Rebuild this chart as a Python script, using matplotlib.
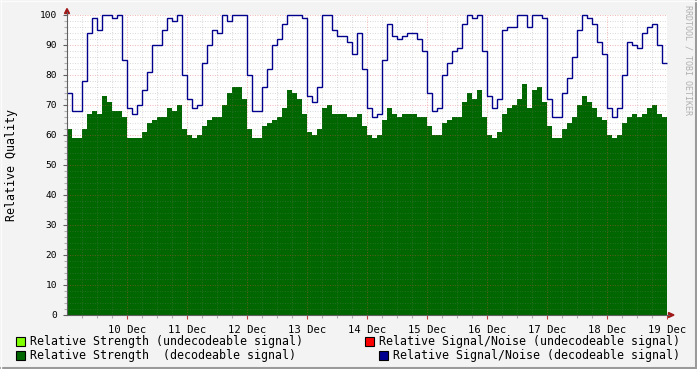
import numpy as np
import matplotlib.pyplot as plt
from matplotlib.patches import Rectangle, Polygon
from matplotlib.lines import Line2D

# 2-hourly samples, 9 Dec 00:00 .. 19 Dec 00:00 (one row per day)
strength = [
    62, 59, 59, 62, 67, 68, 67, 73, 71, 68, 68, 66,
    59, 59, 59, 61, 64, 65, 66, 66, 69, 68, 70, 62,
    60, 59, 60, 63, 65, 66, 66, 70, 74, 76, 76, 72,
    62, 59, 59, 63, 64, 65, 66, 69, 75, 74, 72, 67,
    61, 60, 62, 69, 70, 67, 67, 67, 66, 66, 67, 63,
    60, 59, 60, 65, 69, 67, 66, 67, 67, 67, 66, 66,
    63, 60, 60, 64, 65, 66, 66, 71, 74, 72, 75, 66,
    60, 59, 61, 67, 69, 70, 72, 77, 69, 75, 76, 71,
    63, 59, 59, 62, 64, 66, 70, 73, 71, 69, 66, 65,
    60, 59, 60, 64, 66, 67, 66, 67, 69, 70, 67, 66,
]
snr = [
    74, 68, 68, 78, 94, 99, 95, 100, 100, 99, 100, 85,
    69, 67, 70, 75, 81, 90, 90, 95, 99, 98, 100, 80,
    72, 69, 70, 84, 90, 95, 94, 100, 98, 100, 100, 100,
    80, 68, 68, 76, 82, 90, 92, 97, 100, 100, 100, 99,
    73, 71, 76, 100, 100, 95, 93, 93, 91, 87, 94, 82,
    69, 66, 67, 85, 97, 93, 92, 93, 94, 94, 92, 88,
    74, 68, 69, 80, 84, 88, 89, 97, 100, 99, 100, 88,
    73, 69, 72, 95, 96, 96, 100, 100, 96, 100, 100, 99,
    72, 66, 66, 74, 79, 86, 95, 100, 99, 97, 91, 87,
    69, 66, 69, 80, 91, 90, 89, 94, 96, 97, 90, 84,
]
day_labels = ['10 Dec', '11 Dec', '12 Dec', '13 Dec', '14 Dec',
              '15 Dec', '16 Dec', '17 Dec', '18 Dec', '19 Dec']

W, H = 697, 369
MONO = 'DejaVu Sans Mono'
plt.rcParams['font.family'] = MONO


def fx(x):
    return x / W


def fy(y):
    return 1 - y / H


fig = plt.figure(figsize=(W / 100, H / 100), dpi=100, facecolor='#F3F3F3')
ax = fig.add_axes([fx(67), fy(315), 600 / W, 300 / H])
ax.set_facecolor('white')
ax.set_xlim(0, 240)
ax.set_ylim(0, 100)
for s in ax.spines.values():
    s.set_visible(False)

edges = np.arange(0, 241, 2)

# green area
ax.stairs(strength, edges, fill=True, color='#006600', baseline=0, zorder=2)

# grid on top of the area, dotted
dot = (0, (1, 1.5))
minor_c = [(0.5, 0.5, 0.5, 0.28)]
major_c = [(0.9, 0.3, 0.3, 0.38)]
ax.hlines([v for v in range(2, 101, 2) if v % 10], 0, 240,
          colors=minor_c, linestyles=[dot], lw=0.72, zorder=3)
ax.vlines([h for h in range(6, 241, 6) if h % 24], 0, 100,
          colors=minor_c, linestyles=[dot], lw=0.72, zorder=3)
ax.hlines(range(10, 101, 10), 0, 240,
          colors=major_c, linestyles=[dot], lw=0.72, zorder=3)
ax.vlines(range(24, 241, 24), 0, 100,
          colors=major_c, linestyles=[dot], lw=0.72, zorder=3)

# signal/noise line
ax.stairs(snr, edges, baseline=None, color='#00008C', lw=1.0, zorder=5, clip_on=False)

# ticks
ax.set_xticks(range(24, 241, 24))
ax.set_xticklabels(day_labels, fontsize=7.6)
ax.set_xticks(range(6, 241, 6), minor=True)
ax.set_yticks(range(0, 101, 10))
ax.set_yticklabels([str(v) for v in range(0, 101, 10)], fontsize=6.8)
ax.set_yticks(range(0, 101, 2), minor=True)
ax.tick_params(axis='x', which='major', length=3, width=0.8, color='#C04040', pad=4)
ax.tick_params(axis='x', which='minor', length=2, width=0.8, color='#B0B0B0')
ax.tick_params(axis='y', which='major', length=3, width=0.8, color='#606060', pad=4)
ax.tick_params(axis='y', which='minor', length=2, width=0.8, color='#B0B0B0')

# axes with arrows
fig.add_artist(Line2D([fx(67), fx(67)], [fy(315), fy(12)], color='#606060', lw=0.8))
fig.add_artist(Line2D([fx(67), fx(669)], [fy(315), fy(315)], color='#606060', lw=0.8))
fig.add_artist(Polygon([(fx(64.5), fy(13.5)), (fx(69.5), fy(13.5)), (fx(67), fy(8.5))],
                       closed=True, color='#A01818'))
fig.add_artist(Polygon([(fx(668.5), fy(312.5)), (fx(668.5), fy(317.5)), (fx(674), fy(315))],
                       closed=True, color='#A01818'))

# labels
fig.text(fx(12), fy(165), 'Relative Quality', rotation=90, ha='center', va='center',
         fontsize=8.4, color='black')
fig.text(fx(688), fy(5), 'RRDTOOL / TOBI OETIKER', rotation=270, ha='center', va='top',
         fontsize=6, color='#B0B0B0')

# legend
legend_items = [
    (16, 337, '#80FF00', 'Relative Strength (undecodeable signal)', 'left', 30),
    (16, 351, '#006600', 'Relative Strength  (decodeable signal)', 'left', 30),
    (365, 337, '#FF0000', 'Relative Signal/Noise (undecodeable signal)', 'right', 680),
    (379, 351, '#000090', 'Relative Signal/Noise (decodeable signal)', 'right', 680),
]
for bx, by, col, txt, ha, tx in legend_items:
    fig.add_artist(Rectangle((fx(bx), fy(by + 9)), 9 / W, 9 / H, facecolor=col,
                             edgecolor='black', lw=0.8))
    fig.text(fx(tx), fy(by + 4.5), txt, ha=ha, va='center', fontsize=8.4, color='black')

# frame shading
fig.add_artist(Line2D([0, 1], [fy(368), fy(368)], color='#9A9A9A', lw=2.2))
fig.add_artist(Line2D([fx(696), fx(696)], [0, 1], color='#9A9A9A', lw=2.2))
fig.add_artist(Line2D([0, 1], [fy(0.5), fy(0.5)], color='#FCFCFC', lw=1))
fig.add_artist(Line2D([fx(0.5), fx(0.5)], [0, 1], color='#FCFCFC', lw=1))

plt.savefig('out.png', dpi=100, facecolor=fig.get_facecolor())
